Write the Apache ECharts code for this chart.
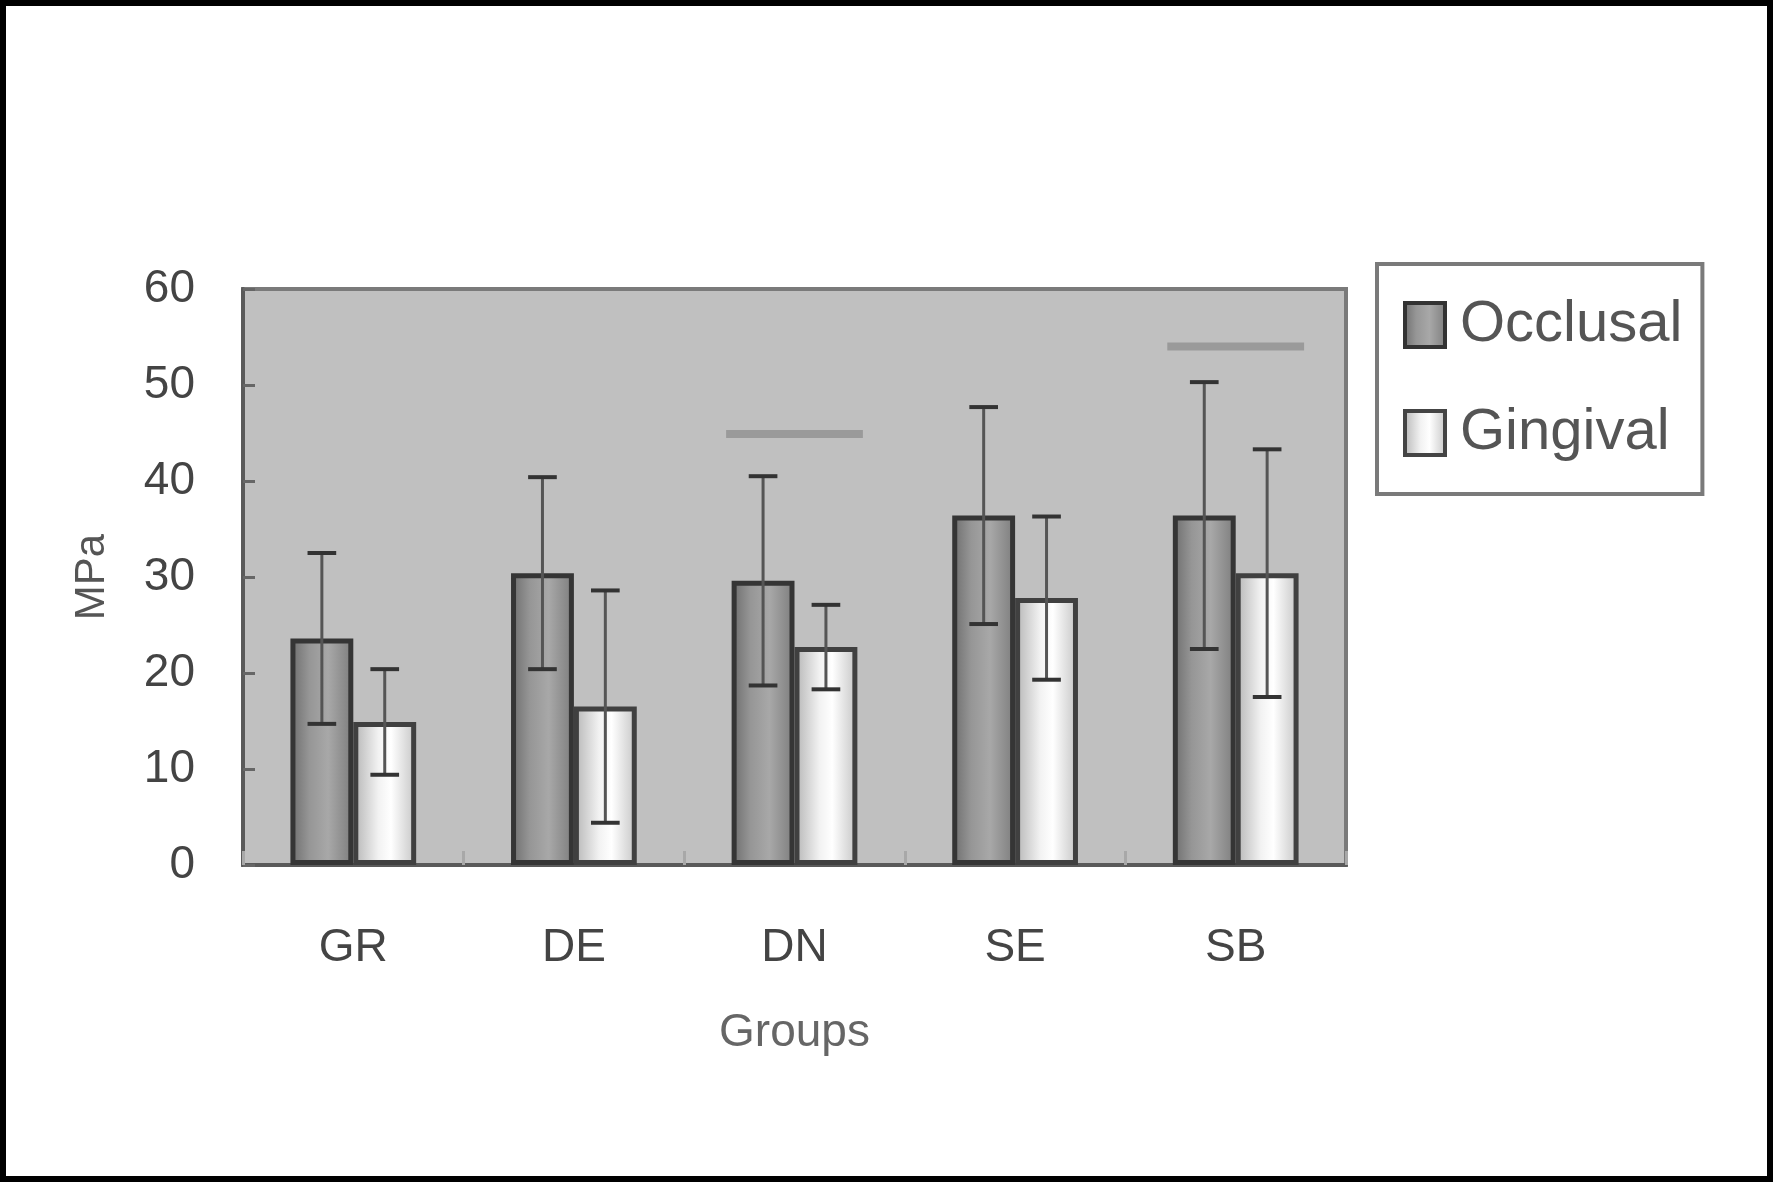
<!DOCTYPE html>
<html>
<head>
<meta charset="utf-8">
<script src="https://cdn.jsdelivr.net/npm/echarts@6/dist/echarts.min.js"></script>
<style>
html,body{margin:0;padding:0;background:#fff;}
#c{width:1773px;height:1182px;}
</style>
</head>
<body>
<div id="c"></div>
<script>
const categories = ['GR', 'DE', 'DN', 'SE', 'SB'];
const occlusalMean = [23.6, 30.4, 29.6, 36.4, 36.4];
const occlusalSD = [8.9, 10.0, 10.9, 11.3, 13.9];
const gingivalMean = [14.9, 16.5, 22.7, 27.8, 30.4];
const gingivalSD = [5.5, 12.1, 4.4, 8.5, 12.9];
const sigLines = [[2, 44.9], [4, 54.0]];
const yTicks = [0, 10, 20, 30, 40, 50, 60];

const FONT = "'Liberation Sans', Arial, sans-serif";
const BAR_W = 0.285;

const occFill = {type:'linear', x:0, y:0, x2:1, y2:0, colorStops:[
  {offset:0, color:'#6c6c6c'}, {offset:0.3, color:'#969696'},
  {offset:0.6, color:'#a8a8a8'}, {offset:1, color:'#7c7c7c'}]};
const gingFill = {type:'linear', x:0, y:0, x2:1, y2:0, colorStops:[
  {offset:0, color:'#b4b4b4'}, {offset:0.4, color:'#f2f2f2'},
  {offset:0.6, color:'#ffffff'}, {offset:1, color:'#c4c4c4'}]};

function errorSeries(mean, sd, off) {
  return {
    type: 'custom',
    z: 5,
    silent: true,
    data: mean.map((m, i) => [i, m, sd[i]]),
    encode: {x: 0, y: 1},
    renderItem: function (params, api) {
      const xi = api.value(0), m = api.value(1), s = api.value(2);
      const band = api.size([1, 0])[0];
      const x = api.coord([xi, m])[0] + off * band;
      const yHi = api.coord([xi, m + s])[1];
      const yLo = api.coord([xi, m - s])[1];
      const cap = band * 0.065;
      return {
        type: 'group',
        children: [
          {type:'line', shape:{x1:x, y1:yLo, x2:x, y2:yHi}, style:{stroke:'#555', lineWidth:3}},
          {type:'line', shape:{x1:x-cap, y1:yHi, x2:x+cap, y2:yHi}, style:{stroke:'#333', lineWidth:4}},
          {type:'line', shape:{x1:x-cap, y1:yLo, x2:x+cap, y2:yLo}, style:{stroke:'#333', lineWidth:4}}
        ]
      };
    }
  };
}

const chart = echarts.init(document.getElementById('c'), null, {renderer:'canvas'});
chart.setOption({
  animation: false,
  backgroundColor: '#ffffff',
  graphic: [{
    type: 'rect', shape: {x:0, y:0, width:1773, height:1182},
    style: {fill:'none', stroke:'#000', lineWidth:12}, z: 100, silent: true
  }],
  grid: {
    left: 243, right: 427, top: 289, bottom: 317,
    show: true, backgroundColor: '#c0c0c0', borderColor: '#7a7a7a', borderWidth: 4
  },
  legend: {
    orient: 'vertical',
    left: 1377, top: 264,
    padding: [32, 20, 32, 26],
    itemGap: 50,
    itemWidth: 40, itemHeight: 44,
    backgroundColor: '#ffffff',
    borderColor: '#7a7a7a', borderWidth: 4,
    textStyle: {fontFamily: FONT, fontSize: 58, color: '#555', padding: [0, 0, 0, 10]},
    data: [
      {name: 'Occlusal', icon: 'rect', itemStyle: {color: occFill, borderColor: '#333', borderWidth: 4}},
      {name: 'Gingival', icon: 'rect', itemStyle: {color: gingFill, borderColor: '#444', borderWidth: 4}}
    ]
  },
  xAxis: {
    type: 'category',
    data: categories,
    name: 'Groups',
    nameLocation: 'middle',
    nameGap: 145,
    nameTextStyle: {fontFamily: FONT, fontSize: 46, color: '#666'},
    axisLine: {lineStyle: {color: '#5a5a5a', width: 4}},
    axisTick: {show: true, inside: true, length: 14, lineStyle: {color: '#a8a8a8', width: 3}},
    axisLabel: {fontFamily: FONT, fontSize: 46, color: '#444', margin: 60},
    splitLine: {show: false}
  },
  yAxis: {
    type: 'value',
    min: 0, max: 60, interval: 10,
    name: 'MPa',
    nameLocation: 'middle',
    nameGap: 130,
    nameRotate: 90,
    nameTextStyle: {fontFamily: FONT, fontSize: 42, color: '#555'},
    axisLine: {show: true, lineStyle: {color: '#5a5a5a', width: 4}},
    axisTick: {show: true, inside: true, length: 12, lineStyle: {color: '#666', width: 3}},
    axisLabel: {fontFamily: FONT, fontSize: 46, color: '#444', margin: 48,
      formatter: v => yTicks.includes(v) ? String(v) : ''},
    splitLine: {show: false}
  },
  series: [
    {
      name: 'Occlusal', type: 'bar', data: occlusalMean,
      barWidth: (BAR_W * 100) + '%', barGap: '0%',
      itemStyle: {color: occFill, borderColor: '#353535', borderWidth: 5}
    },
    {
      name: 'Gingival', type: 'bar', data: gingivalMean,
      barWidth: (BAR_W * 100) + '%', barGap: '0%',
      itemStyle: {color: gingFill, borderColor: '#404040', borderWidth: 5}
    },
    errorSeries(occlusalMean, occlusalSD, -BAR_W / 2),
    errorSeries(gingivalMean, gingivalSD, BAR_W / 2),
    {
      type: 'custom', z: 4, silent: true,
      data: sigLines,
      encode: {x: 0, y: 1},
      renderItem: function (params, api) {
        const band = api.size([1, 0])[0];
        const c = api.coord([api.value(0), api.value(1)]);
        return {type:'line', shape:{x1:c[0]-band*0.31, y1:c[1], x2:c[0]+band*0.31, y2:c[1]},
          style:{stroke:'#9a9a9a', lineWidth:8}};
      }
    }
  ]
});
</script>
</body>
</html>
